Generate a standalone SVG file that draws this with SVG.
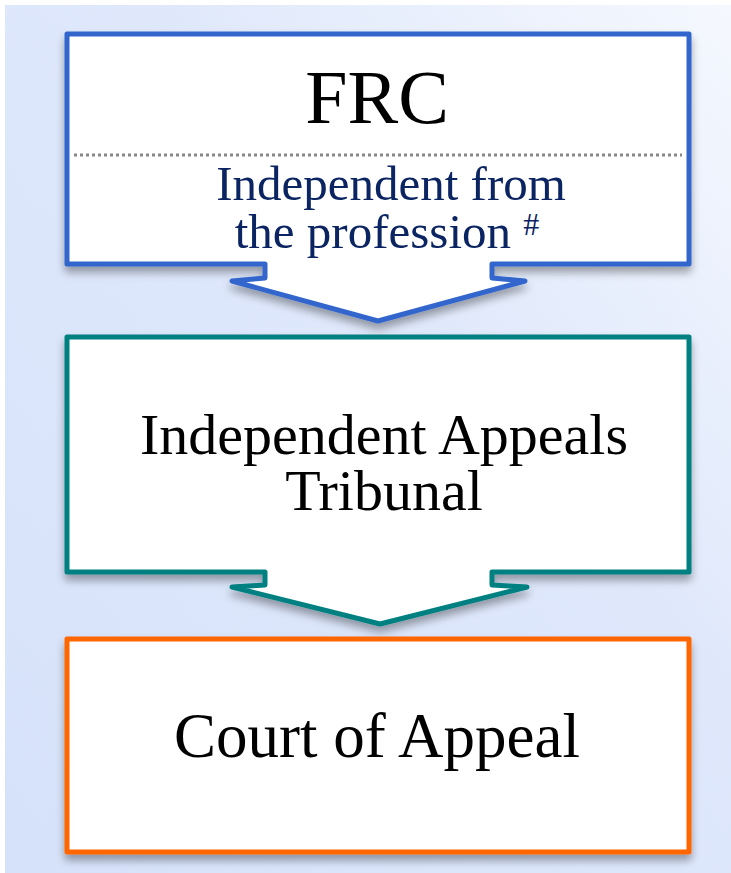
<svg xmlns="http://www.w3.org/2000/svg" width="731" height="873" viewBox="0 0 731 873">
<defs>
<linearGradient id="bg" x1="0" y1="1" x2="1" y2="0">
<stop offset="0" stop-color="#d6e2fa"/>
<stop offset="0.6" stop-color="#dfe8fb"/>
<stop offset="1" stop-color="#f5f8fe"/>
</linearGradient>
<filter id="sh" x="-10%" y="-10%" width="120%" height="130%">
<feGaussianBlur in="SourceAlpha" stdDeviation="4"/>
<feOffset dx="0" dy="6" result="b"/>
<feComponentTransfer><feFuncA type="linear" slope="0.35"/></feComponentTransfer>
<feMerge><feMergeNode/><feMergeNode in="SourceGraphic"/></feMerge>
</filter>
<style>
.shape{fill:#ffffff;stroke-width:5;stroke-linejoin:round;}
.t{font-family:'Liberation Serif','Times New Roman',serif;text-anchor:middle;fill:#000;}
.sub{font-family:'Liberation Serif','Times New Roman',serif;text-anchor:middle;fill:#0b2462;}
</style>
</defs>
<rect x="5" y="5" width="726" height="868" fill="url(#bg)"/>
<g id="connectors"></g>
<g id="frc">
<path class="shape" filter="url(#sh)" stroke="#3366cc" d="M67,34 H689 V264 H492 V278 L525,281 L378,321 L232,281 L265,278 V264 H67 Z"/>
<line x1="74" y1="155" x2="682" y2="155" stroke="#888" stroke-width="3" stroke-dasharray="3,3"/>
<text class="t" x="377" y="123" font-size="76">FRC</text>
<text class="sub" x="391" y="200" font-size="49">Independent from</text>
<text class="sub" x="387" y="248" font-size="49">the profession <tspan font-size="32" dy="-13">#</tspan></text>
</g>
<g id="tribunal">
<path class="shape" filter="url(#sh)" stroke="#008080" d="M67,337 H689 V572 H492 V585 L527,587 L380,624 L232,587 L265,585 V572 H67 Z"/>
<text class="t" x="384" y="454" font-size="58">Independent Appeals</text>
<text class="t" x="384" y="510" font-size="58">Tribunal</text>
</g>
<g id="court">
<rect class="shape" filter="url(#sh)" stroke="#ff6600" x="67" y="639" width="622" height="213"/>
<text class="t" x="377" y="757" font-size="63">Court of Appeal</text>
</g>
</svg>
